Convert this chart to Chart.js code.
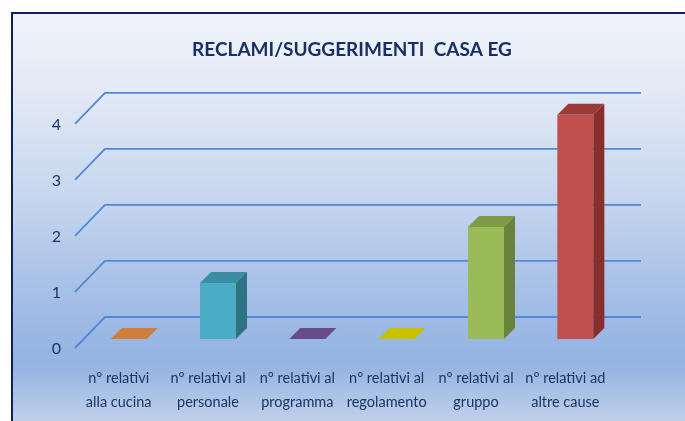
<!DOCTYPE html>
<html>
<head>
<meta charset="utf-8">
<script src="https://cdn.jsdelivr.net/npm/chart.js@4"></script>
<style>
  html, body { margin: 0; padding: 0; background: #fff; }
  #wrap { width: 685px; height: 421px; }
</style>
</head>
<body>
<div id="wrap"><canvas id="bar-chart"></canvas></div>
<script>
/////////---------DATA--------////////////////
const categories = [
  ["n° relativi", "alla cucina"],
  ["n° relativi al", "personale"],
  ["n° relativi al", "programma"],
  ["n° relativi al", "regolamento"],
  ["n° relativi al", "gruppo"],
  ["n° relativi ad", "altre cause"],
];
const values = [0, 1, 0, 0, 2, 4];
const yTicks = [0, 1, 2, 3, 4];

// colours per bar: front, top, side
const frontColors = ["#F79646", "#4BACC6", "#8064A2", "#E8DC00", "#9BBB59", "#C0504D"];
const topColors = ["#D17E3C", "#3A8DA3", "#664C86", "#C9C000", "#7E9A45", "#9C3B38"];
const sideColors = ["#B86A2E", "#2F7284", "#553F70", "#ABA300", "#6A833A", "#862F2C"];

const FONT = "Lato, 'Open Sans', sans-serif";
const DEPTH = 11;

// background, frame, back wall grid and bar sides
const box3d = {
  id: "box3d",
  beforeDraw(chart) {
    const ctx = chart.ctx;
    ctx.save();
    ctx.fillStyle = "#fff";
    ctx.fillRect(0, 0, chart.width, chart.height);
    const g = ctx.createLinearGradient(0, 13, 0, chart.height);
    g.addColorStop(0, "#F0F3FA");
    g.addColorStop(0.2, "#E2E9F5");
    g.addColorStop(0.45, "#C6D6EE");
    g.addColorStop(0.7, "#A4BEE6");
    g.addColorStop(0.86, "#93B3E2");
    g.addColorStop(1, "#C0D0EA");
    ctx.fillStyle = g;
    ctx.fillRect(12, 13, chart.width - 12, chart.height - 13);
    ctx.strokeStyle = "#0E215E";
    ctx.lineWidth = 2;
    ctx.beginPath();
    ctx.moveTo(12, chart.height);
    ctx.lineTo(12, 13);
    ctx.lineTo(chart.width, 13);
    ctx.stroke();
    ctx.restore();
  },
  beforeDatasetsDraw(chart) {
    const ctx = chart.ctx;
    const y = chart.scales.y;
    const { left, right } = chart.chartArea;
    ctx.save();
    ctx.strokeStyle = "#5288D6";
    ctx.lineWidth = 1.8;
    y.ticks.forEach((t) => {
      const py = y.getPixelForValue(t.value);
      ctx.beginPath();
      ctx.moveTo(left - 9, py + 9);
      ctx.lineTo(left + 21, py - 22);
      ctx.lineTo(right + 21, py - 22);
      ctx.stroke();
    });
    ctx.restore();
  },
  afterDatasetsDraw(chart) {
    const ctx = chart.ctx;
    const meta = chart.getDatasetMeta(0);
    ctx.save();
    meta.data.forEach((bar, i) => {
      const { x, y, base, width } = bar.getProps(["x", "y", "base", "width"], true);
      const l = x - width / 2;
      const r = x + width / 2;
      ctx.fillStyle = topColors[i];
      ctx.beginPath();
      ctx.moveTo(l, y);
      ctx.lineTo(l + DEPTH, y - DEPTH);
      ctx.lineTo(r + DEPTH, y - DEPTH);
      ctx.lineTo(r, y);
      ctx.closePath();
      ctx.fill();
      if (base - y > 0.5) {
        ctx.fillStyle = sideColors[i];
        ctx.beginPath();
        ctx.moveTo(r, y);
        ctx.lineTo(r + DEPTH, y - DEPTH);
        ctx.lineTo(r + DEPTH, base - DEPTH);
        ctx.lineTo(r, base);
        ctx.closePath();
        ctx.fill();
      }
    });
    ctx.restore();
  },
};

new Chart(document.getElementById("bar-chart"), {
  type: "bar",
  data: {
    labels: categories,
    datasets: [
      {
        data: values,
        backgroundColor: frontColors,
        borderWidth: 0,
        categoryPercentage: 1,
        barPercentage: 0.403,
      },
    ],
  },
  options: {
    responsive: true,
    maintainAspectRatio: false,
    animation: false,
    layout: { padding: { left: 50, right: 65, top: 30, bottom: 0 } },
    plugins: {
      legend: { display: false },
      tooltip: { enabled: false },
      title: {
        display: true,
        fullSize: false,
        text: "RECLAMI/SUGGERIMENTI  CASA EG",
        color: "#172F62",
        font: { family: FONT, size: 19, weight: "bold" },
        padding: { top: 8, bottom: 54 },
      },
    },
    scales: {
      x: {
        grid: { display: false, drawTicks: false },
        border: { display: false },
        afterFit: (axis) => {
          axis.height = 82;
        },
        ticks: {
          color: "#1B3464",
          font: { family: FONT, size: 14.5, lineHeight: 1.65 },
          padding: 27,
          labelOffset: -10,
          maxRotation: 0,
          autoSkip: false,
        },
      },
      y: {
        min: 0,
        max: 4,
        grid: { display: false, drawTicks: false },
        border: { display: false },
        afterBuildTicks: (axis) => {
          axis.ticks = yTicks.map((v) => ({ value: v }));
        },
        afterFit: (axis) => {
          axis.width = 34;
        },
        ticks: {
          color: "#1B3464",
          font: { family: FONT, size: 16 },
          padding: 23,
          labelOffset: 10,
        },
      },
    },
  },
  plugins: [box3d],
});
</script>
</body>
</html>
